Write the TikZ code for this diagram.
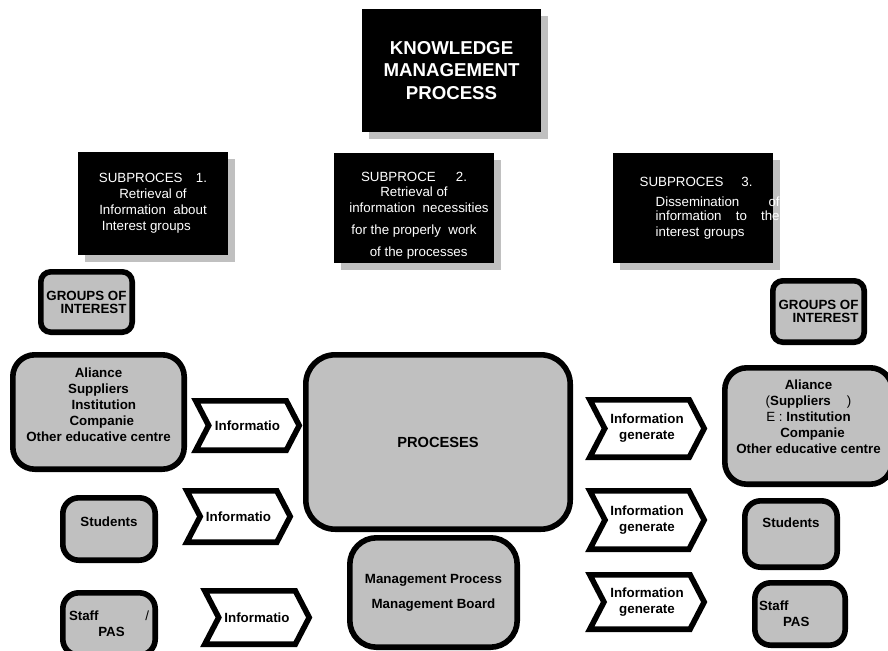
\documentclass[tikz,border=0pt]{standalone}
\usepackage{fontspec}
\setmainfont{Liberation Sans}
\usetikzlibrary{shapes.symbols,shadows}
\definecolor{boxgray}{RGB}{192,192,192}

\begin{document}
\begin{tikzpicture}[x=0.75pt,y=-0.75pt,
    black box/.style={fill=black,text=white,inner sep=0pt,align=center,
      font=\fontsize{10}{12}\selectfont,
      drop shadow={shadow xshift=5.25pt,shadow yshift=-5pt,fill=boxgray,opacity=1}},
    gray box/.style={draw,line width=4.2pt,fill=boxgray,inner sep=0pt,align=center,
      font=\fontsize{10}{12}\selectfont\bfseries},
    info/.style={draw,line width=4.2pt,fill=white,shape=signal,signal from=west,
      signal to=east,signal pointer angle=125,inner sep=0pt,align=center,
      font=\fontsize{10}{12}\selectfont\bfseries}]

\clip (0,0) rectangle (888,650);

% title and subprocesses
\node[black box,minimum width=134.25pt,minimum height=92.25pt,
  font=\fontsize{14}{16.9}\selectfont\bfseries] (kmp) at (451.5,70.5)
  {KNOWLEDGE\\MANAGEMENT\\PROCESS};
\node[black box,minimum width=112.5pt,minimum height=77.25pt] (sub1) at (153,203.5)
  {SUBPROCES\quad 1.\\Retrieval of\hspace*{20pt}\\Information\ \ about\hspace*{12pt}\\
   Interest groups\hspace*{10pt}};
\node[black box,minimum width=120pt,minimum height=82.5pt] (sub2) at (414,208)
  {\mbox{}\\[6.5pt]SUBPROCE\hspace{15pt}2.\\[-0.75pt]Retrieval of\hspace*{7.5pt}\\
   \hspace*{7.5pt}information\ \ necessities\\[4.5pt]for the properly\ \ work\hspace*{7pt}\\[4.5pt]
   \hspace*{7pt}of the processes};
\node[black box,text width=120pt,align=left,minimum height=82.5pt] (sub3) at (693,208)
  {\hspace*{20pt}SUBPROCES\hspace{13.5pt}3.\\[3pt]
   \hspace*{32pt}\makebox[93pt][l]{Dissemination\hfill of}\\[-1.5pt]
   \hspace*{32pt}\makebox[93pt][l]{information\hfill to\hfill the}\\
   \hspace*{32pt}interest groups};

% groups of interest, left
\node[gray box,rounded corners=7.5pt,minimum width=68.55pt,minimum height=45.3pt,
  align=right,font=\fontsize{10}{9.75}\selectfont\bfseries] (groupsL) at (86.5,302)
  {GROUPS OF\\INTEREST};
\node[gray box,rounded corners=16.5pt,minimum width=128.55pt,minimum height=85.8pt] (aliL) at (98.5,412)
  {Aliance\\Suppliers\hspace*{15pt}\\\hspace*{8pt}Institution\\\hspace*{5pt}Companie\\
   Other educative centre\\[-0.75pt]\mbox{}};
\node[gray box,rounded corners=12pt,minimum width=69.3pt,minimum height=46.8pt] (studL) at (109,529)
  {Students\\[-1.5pt]\mbox{}};
\node[gray box,rounded corners=12pt,minimum width=69.3pt,minimum height=46.8pt,
  text width=60pt,align=left] (staffL) at (109,624)
  {Staff\hfill\textmd{/}\\\hspace*{22pt}PAS};

% processes
\node[gray box,rounded corners=22pt,minimum width=198.3pt,minimum height=130.8pt,
  font=\fontsize{11}{13}\selectfont\bfseries] (proc) at (438,442) {PROCESES};
\node[gray box,rounded corners=20pt,minimum width=125.55pt,minimum height=82.05pt] (mgmt) at (433.5,592.5)
  {Management Process\\[6.75pt]Management Board};

% information in and out
\node[info,minimum width=77.55pt,minimum height=37.05pt] (infoL1) at (247.5,425.5) {Informatio};
\node[info,minimum width=77.55pt,minimum height=38.55pt] (infoL2) at (238.5,516.5) {Informatio};
\node[info,minimum width=78.3pt,minimum height=40.05pt] (infoL3) at (257,617.5) {Informatio};
\node[info,minimum width=85.8pt,minimum height=43.05pt] (infoR1) at (647,428.5) {Information\\generate};
\node[info,minimum width=85.8pt,minimum height=43.8pt] (infoR2) at (647,520) {Information\\generate};
\node[info,minimum width=85.8pt,minimum height=40.8pt] (infoR3) at (647,602) {Information\\generate};

% groups of interest, right
\node[gray box,rounded corners=7.5pt,minimum width=68.55pt,minimum height=46.05pt,
  align=right,font=\fontsize{10}{9.75}\selectfont\bfseries] (groupsR) at (818.5,311.5)
  {GROUPS OF\\INTEREST};
\node[gray box,rounded corners=16.5pt,minimum width=125.55pt,minimum height=87.3pt] (aliR) at (808.5,426)
  {Aliance\\\textmd{(}Suppliers\hspace{12pt}\textmd{)}\\\textmd{E :} Institution\\
   \hspace*{6pt}Companie\\Other educative centre\\[2.25pt]\mbox{}};
\node[gray box,rounded corners=12pt,minimum width=69.3pt,minimum height=49.8pt] (studR) at (791,534)
  {Students\\[4.5pt]\mbox{}};
\node[gray box,rounded corners=12pt,minimum width=67.8pt,minimum height=46.8pt,
  text width=61.5pt,align=left] (staffR) at (800,614)
  {Staff\\\hspace*{18pt}PAS};

\end{tikzpicture}
\end{document}
